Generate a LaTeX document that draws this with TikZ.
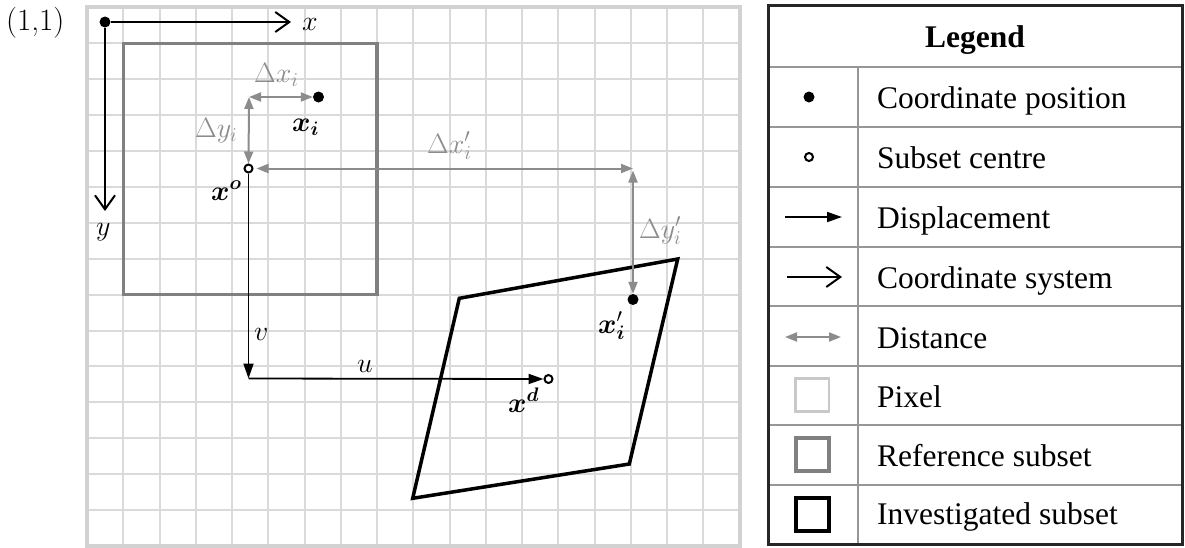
\RequirePackage{fix-cm}
\documentclass[tikz,border=0pt]{standalone}
\usepackage{fontspec}
\usepackage{bm}
\newfontfamily\legfont{Liberation Serif}
\usetikzlibrary{arrows.meta}
\definecolor{gridgray}{RGB}{218,218,218}
\definecolor{bordergray}{RGB}{210,210,210}
\definecolor{refgray}{RGB}{128,128,128}
\definecolor{distgray}{RGB}{140,140,140}
\definecolor{linegray}{RGB}{150,150,150}
\definecolor{pixgray}{RGB}{200,200,200}
\tikzset{
  gridline/.style={draw=gridgray, line width=2pt},
  gridborder/.style={draw=bordergray, line width=4pt},
  refsub/.style={draw=refgray, line width=3.2pt},
  invsub/.style={draw=black, line width=3.5pt, line join=miter},
  lbl/.style={inner sep=0pt, anchor=base west, font=\fontsize{28}{33}\selectfont},
  glbl/.style={lbl, text=distgray},
  ptdot/.style={circle, fill=black, inner sep=0pt, minimum size=11pt},
  ctr/.style={circle, draw=black, line width=2pt, fill=white, inner sep=0pt, minimum size=8pt},
  coordax/.style={line width=2pt, -{Straight Barb[length=14pt,width=20pt]}},
  disp/.style={line width=1.8pt, -{Triangle[length=15pt,width=10pt]}},
  dist/.style={draw=distgray, line width=2pt, {Triangle[length=12pt,width=9pt]}-{Triangle[length=12pt,width=9pt]}},
  legtxt/.style={inner sep=0pt, anchor=base west, font=\legfont\fontsize{31.5}{36}\selectfont},
  legline/.style={draw=linegray, line width=2pt},
}
\begin{document}
\begin{tikzpicture}[x=1pt,y=-1pt]
\useasboundingbox (0,0) rectangle (1185,547);
\fill[white] (0,0) rectangle (1185,547);
% pixel grid
\foreach \i in {1,...,17} \draw[gridline] ({87+36.25*\i},7.4) -- ({87+36.25*\i},545.9);
\foreach \j in {1,...,14} \draw[gridline] (87,{7.4+35.9*\j}) -- (739.5,{7.4+35.9*\j});
\draw[gridborder] (87,7.4) rectangle (739.5,545.9);
% subsets
\draw[refsub] (123.25,43.3) rectangle (377,294.7);
\draw[invsub] (459.3,298.3) -- (677.7,259) -- (629.3,464) -- (412.7,498.3) -- cycle;
% points
\node[ptdot] (orig) at (105,22) {};
\coordinate (xend) at (291,22);
\coordinate (yend) at (105,211);
\node[ptdot] (xi) at (318.5,97) {};
\coordinate (cxi) at (249,97);
\node[ctr] (xo) at (248.5,168.5) {};
\coordinate (cxp) at (633,168.5);
\node[ptdot] (xpi) at (633,299.5) {};
\coordinate (uv) at (248.5,378.5);
\node[ctr] (xd) at (548.5,379) {};
% coordinate system
\draw[coordax] (orig) -- (xend);
\draw[coordax] (orig) -- (yend);
% distances
\draw[dist] (cxi) -- (xi);
\draw[dist] (cxi) -- (xo);
\draw[dist, shorten <=3pt] (xo) -- (cxp);
\draw[dist, shorten <=2pt] (cxp) -- (xpi);
% displacement
\draw[disp] (xo) -- (uv);
\draw[disp] (uv) -- (xd);
% labels
\node[lbl, font=\fontsize{31}{36}\selectfont] (l11) at (6,30) {(1,1)};
\node[lbl] (lx) at (302,30) {$x$};
\node[lbl] (ly) at (96,235) {$y$};
\node[glbl] (ldxi) at (254,82) {$\Delta x_i$};
\node[glbl] (ldyi) at (195,137) {$\Delta y_i$};
\node[lbl] (lxi) at (292,131) {$\bm{x}_{\bm{i}}$};
\node[lbl] (lxo) at (211,200) {$\bm{x}^{\bm{o}}$};
\node[glbl] (ldxp) at (427,153) {$\Delta x_i'$};
\node[glbl] (ldyp) at (639,238) {$\Delta y_i'$};
\node[lbl] (lxp) at (598,333) {$\bm{x}_{\bm{i}}'$};
\node[lbl] (lv) at (254,340) {$v$};
\node[lbl] (lu) at (357,372) {$u$};
\node[lbl] (lxd) at (508,412) {$\bm{x}^{\bm{d}}$};
% legend
\draw[legline] (768,67) -- (1182.5,67);
\foreach \yy in {127,187,247,306,366,425,485} \draw[legline] (768,\yy) -- (1182.5,\yy);
\draw[legline] (858,67) -- (858,544);
\draw[line width=3pt, draw=black!85] (768,5) rectangle (1182.5,544);
\node[inner sep=0pt, anchor=base, font=\legfont\bfseries\fontsize{31.5}{36}\selectfont] (lhead) at (975,47) {Legend};
\node[ptdot] (sdot) at (809,97) {};
\node[ctr] (sctr) at (809,157) {};
\coordinate (sd1) at (785,217); \coordinate (sd2) at (842,217);
\draw[disp] (sd1) -- (sd2);
\coordinate (sc1) at (787,277); \coordinate (sc2) at (842,277);
\draw[coordax] (sc1) -- (sc2);
\coordinate (ss1) at (785,337); \coordinate (ss2) at (841,337);
\draw[dist] (ss1) -- (ss2);
\draw[draw=pixgray, line width=2.5pt] (795.5,378.5) rectangle (829,411.5);
\draw[refsub, line width=4pt] (795.5,437.5) rectangle (829,471);
\draw[draw=black, line width=4pt] (795.5,497.5) rectangle (829,531);
\node[legtxt] (t1) at (877,108) {Coordinate position};
\node[legtxt] (t2) at (877,168) {Subset centre};
\node[legtxt] (t3) at (877,228) {Displacement};
\node[legtxt] (t4) at (877,288) {Coordinate system};
\node[legtxt] (t5) at (877,348) {Distance};
\node[legtxt] (t6) at (877,407) {Pixel};
\node[legtxt] (t7) at (877,466) {Reference subset};
\node[legtxt] (t8) at (877,524) {Investigated subset};
\end{tikzpicture}
\end{document}
